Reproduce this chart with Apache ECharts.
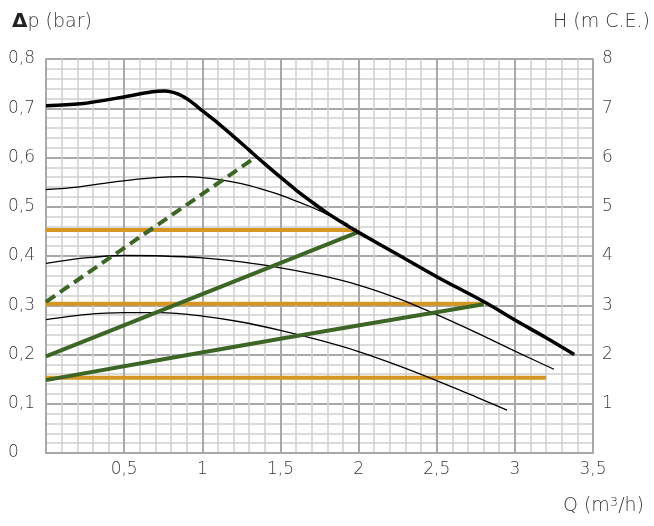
<!DOCTYPE html>
<html>
<head>
<meta charset="utf-8">
<script src="https://cdn.jsdelivr.net/npm/echarts@6/dist/echarts.min.js"></script>
<style>
html,body{margin:0;padding:0;background:#fff;}
#c{width:654px;height:526px;}
</style>
</head>
<body>
<div id="c"></div>
<script>
// ---- data ----
var maxCurve = [[0,0.705],[0.22,0.709],[0.5,0.723],[0.67,0.733],[0.76,0.735],[0.85,0.728],[0.93,0.713],[1.0,0.695],[1.1,0.67],[1.2,0.643],[1.3,0.615],[1.4,0.587],[1.5,0.56],[1.6,0.534],[1.7,0.51],[1.8,0.487],[1.9,0.467],[2.0,0.448],[2.25,0.403],[2.5,0.358],[2.82,0.304],[3.0,0.27],[3.2,0.234],[3.38,0.2]];
var speedHigh = [[0,0.535],[0.2,0.54],[0.45,0.551],[0.7,0.559],[0.88,0.561],[1.0,0.559],[1.13,0.554],[1.25,0.547],[1.37,0.537],[1.48,0.526],[1.58,0.514],[1.67,0.503],[1.75,0.492],[1.85,0.477],[1.93,0.465]];
var speedMid = [[0,0.385],[0.25,0.396],[0.5,0.401],[0.75,0.4],[1.0,0.396],[1.25,0.388],[1.5,0.376],[1.75,0.361],[2.0,0.341],[2.25,0.314],[2.5,0.281],[2.75,0.245],[3.0,0.207],[3.25,0.17]];
var speedLow = [[0,0.271],[0.25,0.281],[0.5,0.285],[0.73,0.285],[1.0,0.278],[1.25,0.266],[1.5,0.249],[1.75,0.229],[2.0,0.206],[2.25,0.178],[2.5,0.147],[2.75,0.114],[2.95,0.087]];
var greenDashed = [[0,0.307],[1.348,0.602]];
var greenUpper = [[0,0.196],[2.0,0.449]];
var greenLower = [[0,0.148],[1.5,0.232],[2.8,0.302]];
var orangeHigh = [[0,0.453],[1.99,0.453]];
var orangeMid = [[0,0.303],[2.8,0.303]];
var orangeLow = [[0,0.153],[3.2,0.153]];
var xTickLabels = ['', '0,5', '1', '1,5', '2', '2,5', '3', '3,5'];
var yLeftTickLabels = ['0', '0,1', '0,2', '0,3', '0,4', '0,5', '0,6', '0,7', '0,8'];
var yRightTickLabels = ['', '1', '2', '3', '4', '5', '6', '7', '8'];

var FONT = 'DejaVu Sans';
var FW = 200;
var TXT = '#3a3a3a';
var GREEN = '#3d6526';
var ORANGE = '#d69722';

function lineSeries(data, color, width, z, smooth, dashed) {
  return {
    type: 'line', data: data, showSymbol: false, symbol: 'none', smooth: smooth ? 0.3 : false,
    z: z, silent: true,
    lineStyle: { color: color, width: width, type: dashed ? [11, 6] : 'solid', cap: 'butt' }
  };
}

var chart = echarts.init(document.getElementById('c'), null, { renderer: 'canvas' });
chart.setOption({
  animation: false,
  backgroundColor: '#fff',
  textStyle: { fontFamily: FONT },
  grid: { left: 46, right: 61, top: 59, bottom: 73, containLabel: false },
  xAxis: {
    type: 'value', min: 0, max: 3.5, interval: 0.5,
    axisLine: { show: true, lineStyle: { color: '#a8a8a8', width: 2 } },
    axisTick: { show: false },
    axisLabel: {
      margin: 8, color: TXT, fontSize: 17, fontFamily: FONT, fontWeight: FW,
      formatter: function (v) { return xTickLabels[Math.round(v / 0.5)]; }
    },
    splitLine: { show: true, lineStyle: { color: '#a8a8a8', width: 2 } },
    minorTick: { show: false, splitNumber: 5 },
    minorSplitLine: { show: true, lineStyle: { color: '#cfcfcf', width: 1.5 } }
  },
  yAxis: [{
    type: 'value', min: 0, max: 0.8, interval: 0.1,
    axisLine: { show: true, lineStyle: { color: '#a8a8a8', width: 2 } },
    axisTick: { show: false },
    axisLabel: {
      margin: 38, align: 'left', color: TXT, fontSize: 17, fontFamily: FONT, fontWeight: FW,
      formatter: function (v) { return yLeftTickLabels[Math.round(v / 0.1)]; }
    },
    splitLine: { show: true, lineStyle: { color: '#a8a8a8', width: 2 } },
    minorTick: { show: false, splitNumber: 5 },
    minorSplitLine: { show: true, lineStyle: { color: '#cfcfcf', width: 1.5 } }
  }, {
    type: 'value', min: 0, max: 8, interval: 1, position: 'right',
    axisLine: { show: true, lineStyle: { color: '#a8a8a8', width: 2 } },
    axisTick: { show: false },
    axisLabel: {
      margin: 9, align: 'left', color: TXT, fontSize: 17, fontFamily: FONT, fontWeight: FW,
      formatter: function (v) { return yRightTickLabels[Math.round(v)]; }
    },
    splitLine: { show: false }
  }],
  graphic: [
    { type: 'text', left: 12, top: 12, style: {
      text: '{d|Δ}{t|p (bar)}', rich: {
        d: { fontSize: 20, fontWeight: 'bold', fill: '#222', fontFamily: 'DejaVu Sans' },
        t: { fontSize: 19, fill: TXT, fontFamily: FONT, fontWeight: FW } } } },
    { type: 'text', right: 4, top: 13, style: {
      text: 'H (m C.E.)', fontSize: 19, fill: TXT, fontFamily: FONT, fontWeight: FW } },
    { type: 'text', right: 10, top: 496, style: {
      text: '{t|Q (m}{s|3}{t|/h)}', rich: {
        t: { fontSize: 19, fill: TXT, fontFamily: FONT, fontWeight: FW },
        s: { fontSize: 13, fill: TXT, fontFamily: FONT, fontWeight: FW, verticalAlign: 'top', padding: [0,0,8,0] } } } }
  ],
  series: [
    lineSeries(orangeHigh, ORANGE, 4, 2, false, false),
    lineSeries(orangeMid, ORANGE, 4, 2, false, false),
    lineSeries(orangeLow, ORANGE, 4, 2, false, false),
    lineSeries(speedHigh, '#000', 1.3, 3, true, false),
    lineSeries(speedMid, '#000', 1.3, 3, true, false),
    lineSeries(speedLow, '#000', 1.3, 3, true, false),
    lineSeries(greenDashed, GREEN, 4, 4, false, true),
    lineSeries(greenUpper, GREEN, 4, 4, false, false),
    lineSeries(greenLower, GREEN, 4, 4, true, false),
    lineSeries(maxCurve, '#000', 3.5, 5, true, false)
  ]
});
</script>
</body>
</html>
